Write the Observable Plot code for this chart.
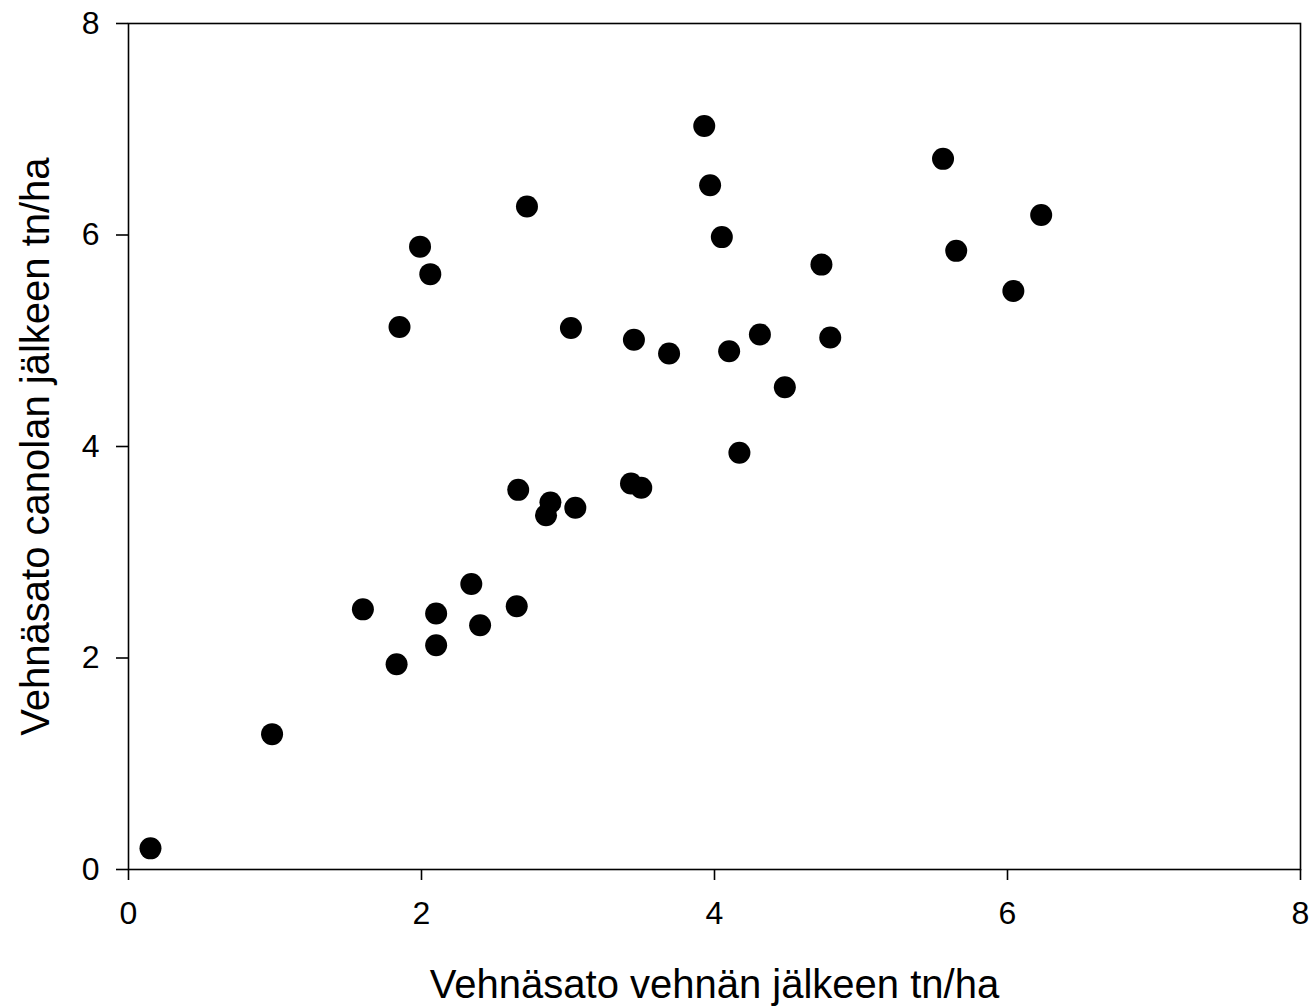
<!DOCTYPE html>
<html>
<head>
<meta charset="utf-8">
<script src="https://cdn.jsdelivr.net/npm/d3@7"></script>
<script src="https://cdn.jsdelivr.net/npm/@observablehq/plot@0.6"></script>
<style>
  html, body { margin: 0; padding: 0; background: white; }
  #chart svg { overflow: visible; }
</style>
</head>
<body>
<div id="chart"></div>
<script>
const wheatAfterWheat = [0.15, 0.98, 1.60, 1.83, 1.85, 1.99, 2.06, 2.10, 2.10, 2.34, 2.40, 2.65, 2.66, 2.72, 2.85, 2.88, 3.02, 3.05, 3.43, 3.45, 3.50, 3.69, 3.93, 3.97, 4.05, 4.10, 4.17, 4.31, 4.48, 4.73, 4.79, 5.56, 5.65, 6.04, 6.23];
const wheatAfterCanola = [0.20, 1.28, 2.46, 1.94, 5.13, 5.89, 5.63, 2.42, 2.12, 2.70, 2.31, 2.49, 3.59, 6.27, 3.35, 3.47, 5.12, 3.42, 3.65, 5.01, 3.61, 4.88, 7.03, 6.47, 5.98, 4.90, 3.94, 5.06, 4.56, 5.72, 5.03, 6.72, 5.85, 5.47, 6.19];
const tickValues = [0, 2, 4, 6, 8];
const xLabel = "Vehnäsato vehnän jälkeen tn/ha";
const yLabel = "Vehnäsato canolan jälkeen tn/ha";

const data = wheatAfterWheat.map((x, i) => ({x, y: wheatAfterCanola[i]}));

const chart = Plot.plot({
  width: 1309,
  height: 1006,
  marginLeft: 128,
  marginRight: 9,
  marginTop: 23,
  marginBottom: 137,
  style: {fontFamily: "'Liberation Sans', Arial, sans-serif", background: "white", color: "black"},
  x: {domain: [0, 8]},
  y: {domain: [0, 8]},
  marks: [
    Plot.frame({stroke: "black", strokeWidth: 1.6}),
    Plot.axisX({ticks: tickValues, tickSize: 11, tickPadding: 21, fontSize: 32, strokeWidth: 1.6, label: null}),
    Plot.axisY({ticks: tickValues, tickSize: 12, tickPadding: 17, fontSize: 32, strokeWidth: 1.6, label: null}),
    Plot.dot(data, {x: "x", y: "y", r: 11, fill: "black", stroke: "none"}),
    Plot.text([xLabel], {text: d => d, frameAnchor: "bottom", textAnchor: "middle", lineAnchor: "bottom", dy: 128, fontSize: 40}),
    Plot.text([yLabel], {text: d => d, frameAnchor: "left", textAnchor: "middle", lineAnchor: "top", rotate: -90, dx: -108, fontSize: 40})
  ]
});
document.getElementById("chart").appendChild(chart);
</script>
</body>
</html>
